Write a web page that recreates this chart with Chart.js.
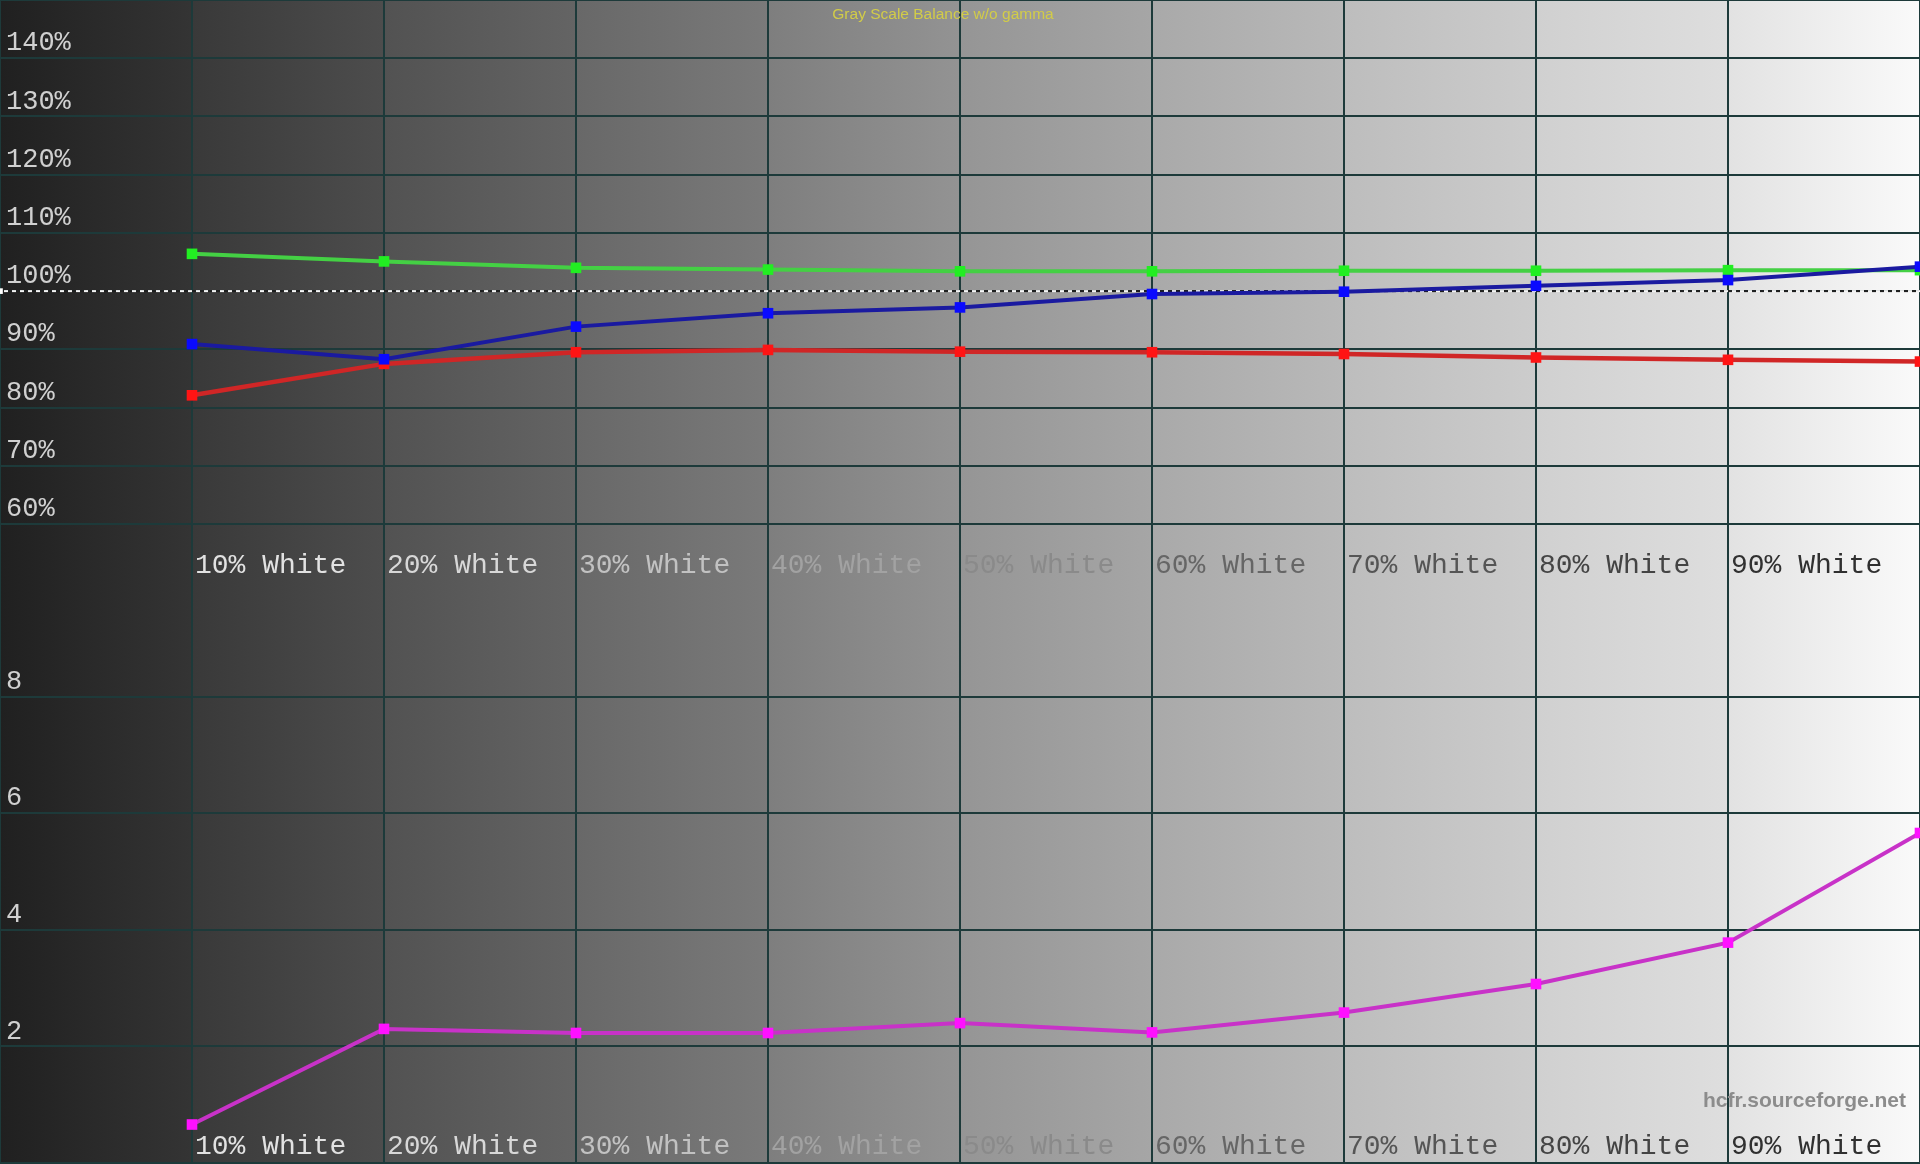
<!DOCTYPE html>
<html>
<head>
<meta charset="utf-8">
<script src="https://cdn.jsdelivr.net/npm/chart.js@4.4.1/dist/chart.umd.min.js"></script>
<style>
  html, body { margin: 0; padding: 0; }
  body {
    width: 1920px; height: 1164px; overflow: hidden; position: relative;
    background: linear-gradient(to right,
      #202020 0%, #343434 10%,
      #393939 10%, #4d4d4d 20%,
      #525252 20%, #646464 30%,
      #686868 30%, #7a7a7a 40%,
      #7e7e7e 40%, #939393 50%,
      #959595 50%, #a6a6a6 60%,
      #a9a9a9 60%, #b9b9b9 70%,
      #bdbdbd 70%, #cccccc 80%,
      #d0d0d0 80%, #dedede 90%,
      #e2e2e2 90%, #fafafa 100%);
  }
  canvas { position: absolute; left: 0; }
  #upper { top: 0; }
  #lower { top: 524px; }
  #title {
    position: absolute; left: 0; width: 1886px; top: 5px; text-align: center;
    font-family: "Liberation Sans", Arial, sans-serif; font-size: 15.5px; color: #d2cc48;
  }
  #mark {
    position: absolute; right: 14px; top: 1088px;
    font-family: "Liberation Sans", Arial, sans-serif; font-size: 21px; font-weight: bold; color: #8c8c8c;
  }
</style>
</head>
<body>
<canvas id="upper" width="1920" height="600"></canvas>
<canvas id="lower" width="1920" height="640"></canvas>
<div id="title">Gray Scale Balance w/o gamma</div>
<div id="mark">hcfr.sourceforge.net</div>
<script>
// ---- data ----
const levels = [10, 20, 30, 40, 50, 60, 70, 80, 90, 100];
const xTickLabels = ['10% White', '20% White', '30% White', '40% White', '50% White',
                     '60% White', '70% White', '80% White', '90% White'];
const redValues   = [82.1, 87.5, 89.5, 89.9, 89.6, 89.5, 89.2, 88.6, 88.2, 87.9];
const greenValues = [106.4, 105.1, 104.0, 103.7, 103.4, 103.4, 103.5, 103.5, 103.6, 103.6];
const blueValues  = [90.9, 88.3, 93.9, 96.2, 97.2, 99.5, 99.9, 100.9, 101.9, 104.2];
const deltaEValues = [0.66, 2.30, 2.23, 2.23, 2.40, 2.24, 2.58, 3.07, 3.78, 5.66];
const referenceLevel = 100;
const upperTickValues = [60, 70, 80, 90, 100, 110, 120, 130, 140, 150];
const upperTickLabels = ['60%', '70%', '80%', '90%', '100%', '110%', '120%', '130%', '140%', ''];
const lowerTickValues = [0, 2, 4, 6, 8];
const lowerTickLabels = ['', '2', '4', '6', '8'];

// ---- styles ----
const labelColors = ['#e2e2e2', '#d8d8d8', '#c2c2c2', '#a2a2a2', '#8a8a8a',
                     '#666666', '#555555', '#444444', '#303030'];
const gridColor = '#1d3a3a';
const monoFont = '"Courier New", "Nimbus Mono PS", "Nimbus Mono L", FreeMono, "Liberation Mono", monospace';

function pts(values) { return values.map((v, i) => ({ x: levels[i], y: v })); }

function noPad(s) { s.paddingLeft = 0; s.paddingRight = 0; s.paddingTop = 0; s.paddingBottom = 0; }

function xScale(mirror, padding, height) {
  return {
    type: 'linear', min: 0, max: 100,
    afterBuildTicks: (axis) => { axis.ticks = [0].concat(levels).map(v => ({ value: v })); },
    afterFit: (s) => { s.height = height; noPad(s); },
    grid: { color: gridColor, lineWidth: 2, drawTicks: false },
    border: { display: false },
    ticks: {
      autoSkip: false, maxRotation: 0, minRotation: 0, align: 'start',
      labelOffset: 3, mirror: mirror, padding: padding,
      font: { family: monoFont, size: 28 },
      color: (ctx) => labelColors[ctx.index - 1] || 'rgba(0,0,0,0)',
      callback: (v) => { const i = levels.indexOf(v); return i >= 0 && i < xTickLabels.length ? xTickLabels[i] : ''; }
    }
  };
}

function yScale(min, max, tickValues, tickLabels) {
  return {
    type: 'linear', min: min, max: max,
    afterBuildTicks: (axis) => { axis.ticks = tickValues.map(v => ({ value: v })); },
    afterFit: (s) => { s.width = 0; noPad(s); },
    grid: { color: gridColor, lineWidth: 2, drawTicks: false },
    border: { display: false },
    ticks: {
      mirror: true, padding: 6, labelOffset: -15,
      font: { family: monoFont, size: 27 },
      color: '#d0d0d0',
      callback: (v) => { const i = tickValues.indexOf(v); return i >= 0 ? tickLabels[i] : ''; }
    }
  };
}

function series(values, line, point, width) {
  return {
    data: pts(values), borderColor: line, borderWidth: width,
    pointStyle: 'rect', pointRadius: 7.5, pointBackgroundColor: point, pointBorderWidth: 0,
    tension: 0, clip: false
  };
}

const common = {
  responsive: false, animation: false, devicePixelRatio: 1,
  layout: { padding: 0, autoPadding: false },
  plugins: { legend: { display: false }, tooltip: { enabled: false }, title: { display: false } }
};

new Chart(document.getElementById('upper'), {
  type: 'line',
  data: {
    datasets: [
      series(blueValues, '#1a1aa0', '#0a0aff', 4),
      series(greenValues, '#44d044', '#22ee22', 4),
      series(redValues, '#d02626', '#ff1414', 4.5),
      { data: [{ x: 0, y: referenceLevel }, { x: 100, y: referenceLevel }], borderColor: '#f4f4f4',
        borderWidth: 2, borderDash: [4, 4], borderDashOffset: 4, pointStyle: 'rect',
        pointRadius: [4, 0], pointBackgroundColor: '#ffffff', pointBorderWidth: 0 },
      { data: [{ x: 0, y: referenceLevel }, { x: 100, y: referenceLevel }], borderColor: '#202020',
        borderWidth: 2, borderDash: [4, 4], pointRadius: 0 }
    ]
  },
  options: Object.assign({}, common, {
    scales: { x: xScale(false, 25, 76), y: yScale(60, 150, upperTickValues, upperTickLabels) }
  })
});

new Chart(document.getElementById('lower'), {
  type: 'line',
  data: {
    datasets: [ series(deltaEValues, '#c832c8', '#ff10ff', 4) ]
  },
  options: Object.assign({}, common, {
    scales: { x: xScale(true, 0, 1), y: yScale(0, 10.96, lowerTickValues, lowerTickLabels) }
  })
});
</script>
</body>
</html>
